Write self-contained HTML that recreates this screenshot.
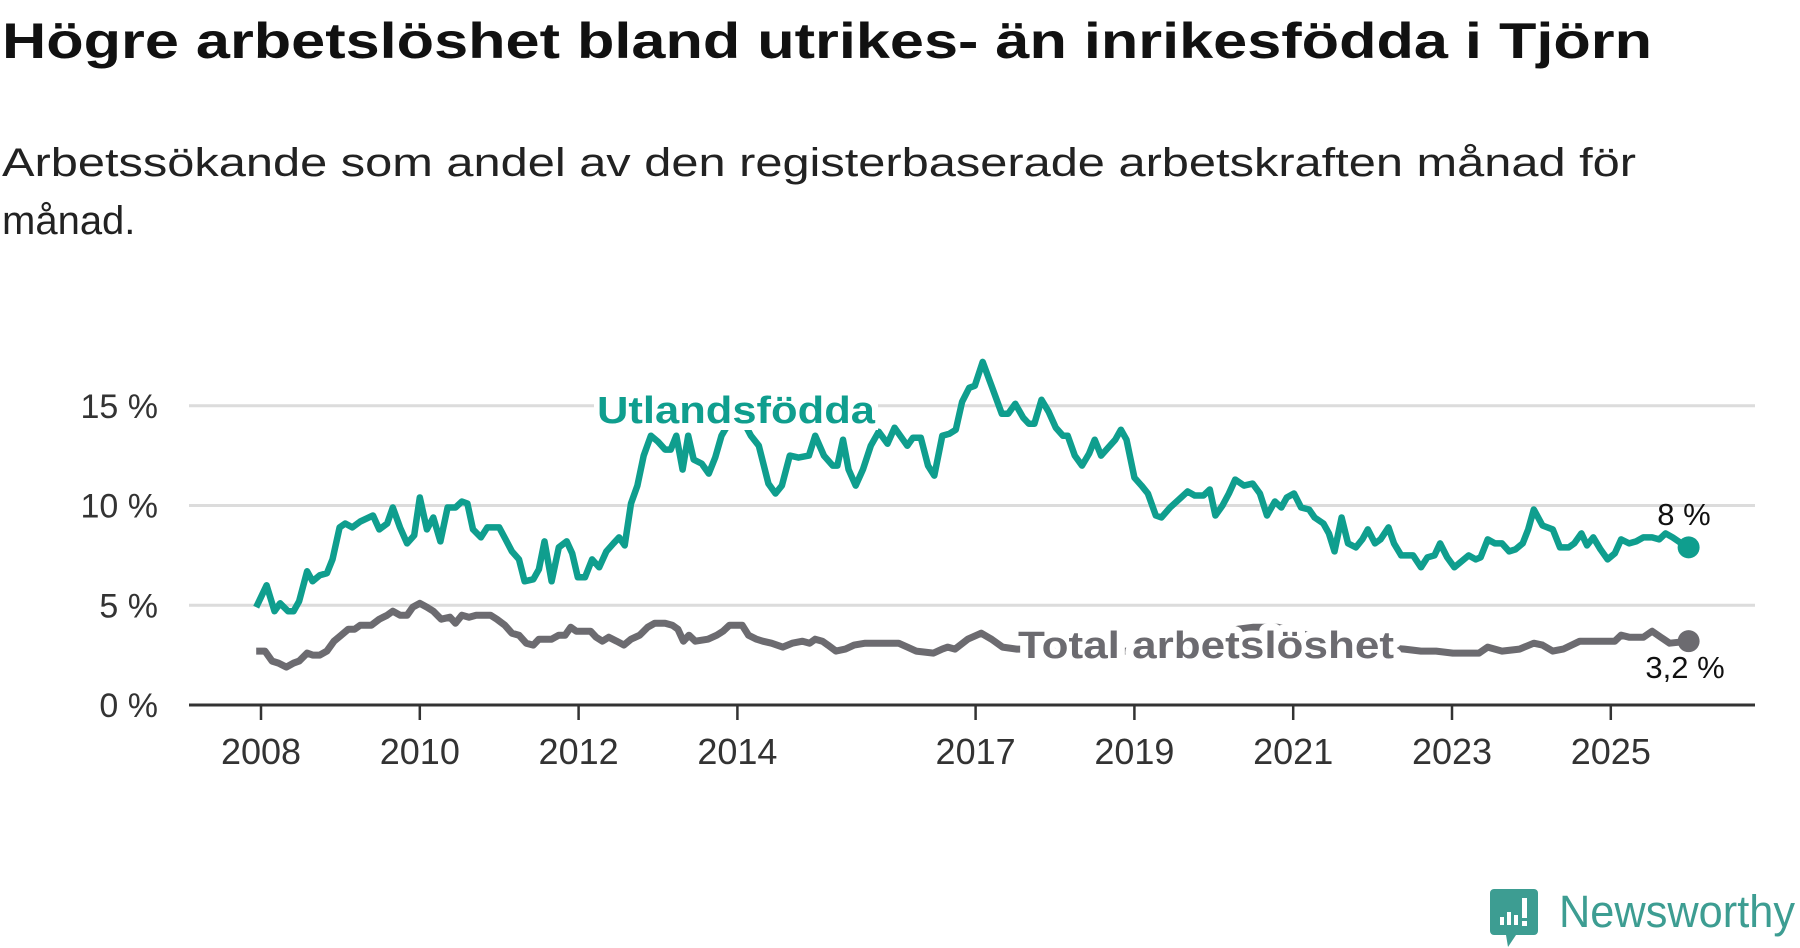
<!DOCTYPE html>
<html><head><meta charset="utf-8">
<style>
html,body{margin:0;padding:0;background:#fff;}
svg{display:block;}
text{font-family:"Liberation Sans","DejaVu Sans",sans-serif;}
</style></head>
<body>
<svg id="chart" width="1800" height="948" viewBox="0 0 1800 948">
<text x="2" y="58" font-size="50" font-weight="bold" fill="#111" textLength="1650" lengthAdjust="spacingAndGlyphs">Högre arbetslöshet bland utrikes- än inrikesfödda i Tjörn</text>
<text x="2" y="176" font-size="40" fill="#222" textLength="1634" lengthAdjust="spacingAndGlyphs">Arbetssökande som andel av den registerbaserade arbetskraften månad för</text>
<text x="2" y="234" font-size="40" fill="#222">månad.</text>
<g id="grid"></g>
<g id="axes"></g>
<g id="series"></g>
<g id="labels"></g>
<g>
<path d="M1494 889 h40 a4 4 0 0 1 4 4 v38 a4 4 0 0 1 -4 4 h-18 l-8 12 l-2 -12 h-12 a4 4 0 0 1 -4 -4 v-38 a4 4 0 0 1 4 -4z" fill="#3d9d92"/>
<rect x="1500" y="917" width="4" height="8" fill="#fff"/><rect x="1507" y="912" width="4" height="13" fill="#fff"/><rect x="1514" y="915" width="4" height="10" fill="#fff"/><rect x="1522" y="898" width="5" height="20" fill="#fff"/><rect x="1522" y="921" width="5" height="5" fill="#fff"/>
<text x="1559" y="927" font-size="45" fill="#3d9d92" textLength="236" lengthAdjust="spacingAndGlyphs">Newsworthy</text>
</g>
</svg>
<script>
const yTicks = [0,5,10,15];
const yTickLabels = ["0 %","5 %","10 %","15 %"];
const xTicks = [2008,2010,2012,2014,2017,2019,2021,2023,2025];
const foreignDates = [2007.94,2008.07,2008.17,2008.24,2008.34,2008.41,2008.48,2008.58,2008.65,2008.74,2008.83,2008.9,2008.99,2009.06,2009.15,2009.25,2009.41,2009.49,2009.59,2009.66,2009.75,2009.84,2009.93,2010.0,2010.09,2010.17,2010.26,2010.35,2010.45,2010.53,2010.6,2010.67,2010.77,2010.85,2011.0,2011.08,2011.16,2011.25,2011.32,2011.43,2011.5,2011.57,2011.66,2011.75,2011.85,2011.92,2011.99,2012.08,2012.17,2012.26,2012.35,2012.44,2012.51,2012.58,2012.66,2012.74,2012.82,2012.91,2013.0,2013.09,2013.16,2013.23,2013.31,2013.38,2013.45,2013.55,2013.64,2013.72,2013.8,2013.95,2014.05,2014.17,2014.27,2014.39,2014.48,2014.56,2014.66,2014.77,2014.9,2014.98,2015.09,2015.2,2015.26,2015.33,2015.4,2015.49,2015.58,2015.68,2015.78,2015.89,2015.98,2016.14,2016.21,2016.31,2016.4,2016.48,2016.58,2016.67,2016.75,2016.83,2016.92,2016.99,2017.09,2017.2,2017.33,2017.41,2017.5,2017.6,2017.67,2017.74,2017.83,2017.92,2018.01,2018.1,2018.16,2018.25,2018.34,2018.43,2018.5,2018.58,2018.67,2018.76,2018.83,2018.9,2019.0,2019.09,2019.17,2019.27,2019.34,2019.45,2019.56,2019.67,2019.76,2019.87,2019.95,2020.02,2020.11,2020.19,2020.27,2020.38,2020.49,2020.58,2020.67,2020.77,2020.85,2020.92,2021.01,2021.1,2021.2,2021.27,2021.38,2021.45,2021.52,2021.61,2021.69,2021.79,2021.87,2021.94,2022.03,2022.1,2022.2,2022.27,2022.36,2022.51,2022.61,2022.69,2022.78,2022.85,2022.94,2023.03,2023.12,2023.21,2023.3,2023.36,2023.45,2023.54,2023.63,2023.72,2023.8,2023.89,2023.96,2024.03,2024.14,2024.27,2024.36,2024.47,2024.54,2024.63,2024.7,2024.78,2024.87,2024.96,2025.05,2025.13,2025.23,2025.32,2025.41,2025.52,2025.61,2025.69,2025.78,2025.89,2025.98];
const foreignValues = [4.9,6.0,4.7,5.1,4.7,4.7,5.2,6.7,6.2,6.5,6.6,7.3,8.9,9.1,8.9,9.2,9.5,8.8,9.1,9.9,8.9,8.1,8.5,10.4,8.8,9.4,8.2,9.9,9.9,10.2,10.1,8.8,8.4,8.9,8.9,8.3,7.7,7.3,6.2,6.3,6.8,8.2,6.2,7.9,8.2,7.6,6.4,6.4,7.3,6.9,7.7,8.1,8.4,8.0,10.1,11.0,12.5,13.5,13.2,12.8,12.8,13.5,11.8,13.5,12.3,12.1,11.6,12.4,13.5,14.5,14.4,13.5,13.0,11.1,10.6,11.0,12.5,12.4,12.5,13.5,12.5,12.0,12.0,13.3,11.8,11.0,11.8,13.0,13.7,13.1,13.9,13.0,13.4,13.4,12.0,11.5,13.5,13.6,13.8,15.2,15.9,16.0,17.2,16.0,14.6,14.6,15.1,14.4,14.1,14.1,15.3,14.7,13.9,13.5,13.5,12.5,12.0,12.6,13.3,12.5,12.9,13.3,13.8,13.3,11.4,11.0,10.6,9.5,9.4,9.9,10.3,10.7,10.5,10.5,10.8,9.5,10.0,10.6,11.3,11.0,11.1,10.6,9.5,10.2,9.9,10.4,10.6,9.9,9.8,9.4,9.1,8.6,7.7,9.4,8.1,7.9,8.3,8.8,8.1,8.3,8.9,8.1,7.5,7.5,6.9,7.4,7.5,8.1,7.4,6.9,7.2,7.5,7.3,7.4,8.3,8.1,8.1,7.7,7.8,8.1,8.8,9.8,9.0,8.8,7.9,7.9,8.1,8.6,8.0,8.4,7.8,7.3,7.6,8.3,8.1,8.2,8.4,8.4,8.3,8.6,8.4,8.1,7.9];
const totalDates = [2007.94,2008.05,2008.14,2008.22,2008.32,2008.41,2008.48,2008.58,2008.65,2008.74,2008.83,2008.92,2009.01,2009.1,2009.18,2009.25,2009.39,2009.49,2009.59,2009.66,2009.75,2009.84,2009.91,2010.0,2010.09,2010.17,2010.27,2010.38,2010.45,2010.53,2010.62,2010.71,2010.89,2010.97,2011.07,2011.16,2011.25,2011.34,2011.43,2011.5,2011.66,2011.75,2011.83,2011.9,2011.97,2012.15,2012.22,2012.3,2012.38,2012.48,2012.57,2012.66,2012.77,2012.87,2012.96,2013.09,2013.18,2013.25,2013.32,2013.39,2013.47,2013.63,2013.74,2013.82,2013.9,2014.06,2014.14,2014.24,2014.32,2014.43,2014.57,2014.69,2014.82,2014.91,2014.98,2015.07,2015.14,2015.24,2015.36,2015.47,2015.61,2015.76,2016.03,2016.14,2016.25,2016.47,2016.58,2016.65,2016.74,2016.9,2017.07,2017.2,2017.34,2017.52,2017.8,2018.2,2018.6,2019.0,2019.4,2019.8,2020.1,2020.3,2020.5,2020.8,2021.1,2021.4,2021.8,2022.1,2022.4,2022.61,2022.8,2023.01,2023.34,2023.45,2023.63,2023.85,2024.03,2024.14,2024.27,2024.4,2024.61,2025.05,2025.13,2025.23,2025.41,2025.52,2025.63,2025.74,2025.98];
const totalValues = [2.7,2.7,2.2,2.1,1.9,2.1,2.2,2.6,2.5,2.5,2.7,3.2,3.5,3.8,3.8,4.0,4.0,4.3,4.5,4.7,4.5,4.5,4.9,5.1,4.9,4.7,4.3,4.4,4.1,4.5,4.4,4.5,4.5,4.3,4.0,3.6,3.5,3.1,3.0,3.3,3.3,3.5,3.5,3.9,3.7,3.7,3.4,3.2,3.4,3.2,3.0,3.3,3.5,3.9,4.1,4.1,4.0,3.8,3.2,3.5,3.2,3.3,3.5,3.7,4.0,4.0,3.5,3.3,3.2,3.1,2.9,3.1,3.2,3.1,3.3,3.2,3.0,2.7,2.8,3.0,3.1,3.1,3.1,2.9,2.7,2.6,2.8,2.9,2.8,3.3,3.6,3.3,2.9,2.8,2.8,2.8,2.7,2.7,2.7,2.8,3.2,3.8,3.9,3.9,3.6,3.2,3.0,2.9,2.8,2.7,2.7,2.6,2.6,2.9,2.7,2.8,3.1,3.0,2.7,2.8,3.2,3.2,3.5,3.4,3.4,3.7,3.4,3.1,3.2];

const NS='http://www.w3.org/2000/svg';
const X0=189, X1=1755;
function xs(yr){return 261+(yr-2008)*79.4;}
function ys(v){return 705-v*19.95;}
function mk(tag,attrs,parent){const e=document.createElementNS(NS,tag);for(const k in attrs)e.setAttribute(k,attrs[k]);parent.appendChild(e);return e;}
const grid=document.getElementById('grid'), axes=document.getElementById('axes'), series=document.getElementById('series'), labels=document.getElementById('labels');
yTicks.forEach((t,i)=>{
  if(t>0){const g=mk('line',{x1:X0,x2:X1,y1:ys(t),y2:ys(t),stroke:'#dcdcdc','stroke-width':3},grid);
  
  }
  const tl=mk('text',{x:158,y:ys(t)+12,'font-size':34,fill:'#333','text-anchor':'end'},axes);
  tl.textContent=yTickLabels[i];
  
  
});
const ax=mk('line',{x1:X0,x2:X1,y1:705,y2:705,stroke:'#333','stroke-width':3},axes);


xTicks.forEach(t=>{
  const tk=mk('line',{x1:xs(t),x2:xs(t),y1:705,y2:720,stroke:'#333','stroke-width':2.5},axes);
  
  
  const tl=mk('text',{x:xs(t),y:764,'font-size':36,fill:'#333','text-anchor':'middle'},axes);
  tl.textContent=t;
  
  
});
function pts(d,v){return d.map((dd,i)=>xs(dd).toFixed(1)+','+ys(v[i]).toFixed(1)).join(' ');}
const tl=mk('polyline',{points:pts(totalDates,totalValues),fill:'none',stroke:'#6c6b70','stroke-width':7,'stroke-linejoin':'round'},series);


const fl=mk('polyline',{points:pts(foreignDates,foreignValues),fill:'none',stroke:'#0f9e8e','stroke-width':6.5,'stroke-linejoin':'round'},series);


const fd=foreignDates.length-1, td=totalDates.length-1;
const d1=mk('circle',{cx:xs(foreignDates[fd]),cy:ys(foreignValues[fd]),r:11,fill:'#0f9e8e'},series);


const d2=mk('circle',{cx:xs(totalDates[td]),cy:ys(totalValues[td]),r:11,fill:'#6c6b70'},series);


const bg=mk('rect',{x:594,y:386,width:284,height:44,fill:'#fff'},labels);


const l1=mk('text',{x:736,y:423,'font-size':38,'font-weight':'bold',fill:'#0f9e8e','text-anchor':'middle',textLength:278,lengthAdjust:'spacingAndGlyphs'},labels);
l1.textContent='Utlandsfödda';


const l2=mk('text',{x:1206,y:658,'font-size':38,'font-weight':'bold',fill:'#6c6b70','text-anchor':'middle',stroke:'#fff','stroke-width':14,'stroke-linejoin':'round','paint-order':'stroke',textLength:376,lengthAdjust:'spacingAndGlyphs'},labels);
l2.textContent='Total arbetslöshet';


const v1=mk('text',{x:1684,y:525,'font-size':31,fill:'#111','text-anchor':'middle'},labels);
v1.textContent='8 %';


const v2=mk('text',{x:1685,y:678,'font-size':31,fill:'#111','text-anchor':'middle'},labels);
v2.textContent='3,2 %';


</script>
</body></html>
